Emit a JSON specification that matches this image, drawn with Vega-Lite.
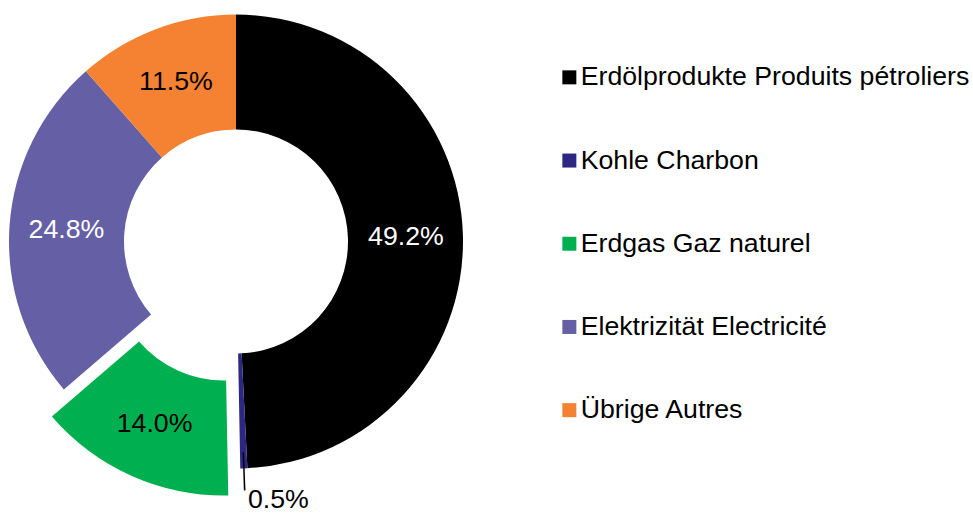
{
  "$schema": "https://vega.github.io/schema/vega-lite/v6.json",
  "width": 472,
  "height": 483,
  "padding": 0,
  "autosize": {"type": "pad"},
  "background": "white",
  "config": {
    "view": {"stroke": null},
    "font": "Liberation Sans"
  },
  "data": {
    "values": [
      {"cat": "Erdölprodukte Produits pétroliers", "value": 49.2, "label": "49.2%", "ord": 1},
      {"cat": "Kohle Charbon", "value": 0.5, "label": "0.5%", "ord": 2},
      {"cat": "Erdgas Gaz naturel", "value": 14.0, "label": "14.0%", "ord": 3},
      {"cat": "Elektrizität Electricité", "value": 24.8, "label": "24.8%", "ord": 4},
      {"cat": "Übrige Autres", "value": 11.5, "label": "11.5%", "ord": 5}
    ]
  },
  "layer": [
    {
      "mark": {"type": "arc", "radius": 227, "radius2": 112},
      "encoding": {
        "theta": {"field": "value", "type": "quantitative", "stack": true, "scale": {"domain": [0, 100]}},
        "order": {"field": "ord"},
        "color": {
          "field": "cat", "type": "nominal",
          "scale": {
            "domain": ["Erdölprodukte Produits pétroliers", "Kohle Charbon", "Erdgas Gaz naturel", "Elektrizität Electricité", "Übrige Autres"],
            "range": ["#000000", "#2B2783", "#00B050", "#655FA5", "#F58232"]
          },
          "legend": {
            "orient": "none", "legendX": 556, "legendY": 64,
            "title": null, "symbolType": "square", "symbolSize": 196,
            "symbolStrokeWidth": 0, "symbolOpacity": 1,
            "labelFontSize": 26.7, "labelFont": "Liberation Sans", "labelColor": "#000000",
            "labelOffset": -2, "rowPadding": 55.2, "padding": 0, "labelLimit": 500
          }
        },
        "fillOpacity": {"condition": {"test": "datum.cat === 'Erdgas Gaz naturel'", "value": 0}, "value": 1}
      }
    },
    {
      "transform": [
        {"stack": "value", "groupby": [], "sort": [{"field": "ord"}], "as": ["v0", "v1"]},
        {"filter": "datum.cat === 'Erdgas Gaz naturel'"}
      ],
      "mark": {"type": "arc", "radius": 227, "radius2": 112, "x": {"expr": "width/2 - 12"}, "y": {"expr": "height/2 + 27"}},
      "encoding": {
        "theta": {"field": "v0", "type": "quantitative", "scale": {"domain": [0, 100]}},
        "theta2": {"field": "v1"},
        "color": {"field": "cat", "type": "nominal", "legend": null}
      }
    },
    {
      "transform": [
        {"stack": "value", "groupby": [], "sort": [{"field": "ord"}], "as": ["v0", "v1"]},
        {"filter": "datum.cat === 'Kohle Charbon'"}
      ],
      "mark": {"type": "arc", "radius": 249, "radius2": 211, "thetaOffset": 0.0122, "theta2Offset": -0.0127, "color": "#000000"},
      "encoding": {
        "theta": {"field": "v0", "type": "quantitative", "scale": {"domain": [0, 100]}},
        "theta2": {"field": "v1"}
      }
    },
    {
      "mark": {"type": "text", "radius": 170, "fontSize": 26.7, "font": "Liberation Sans", "align": "center", "baseline": "middle"},
      "encoding": {
        "theta": {"field": "value", "type": "quantitative", "stack": true, "scale": {"domain": [0, 100]}},
        "order": {"field": "ord"},
        "detail": {"field": "cat"},
        "text": {"condition": {"test": "datum.cat === 'Erdgas Gaz naturel' || datum.cat === 'Kohle Charbon'", "value": ""}, "field": "label"},
        "color": {"condition": {"test": "datum.cat === 'Erdölprodukte Produits pétroliers' || datum.cat === 'Elektrizität Electricité'", "value": "#FFFFFF"}, "value": "#000000"}
      }
    },
    {
      "mark": {"type": "text", "radius": 170, "fontSize": 26.7, "font": "Liberation Sans", "align": "center", "baseline": "middle", "color": "#000000", "x": {"expr": "width/2 - 12"}, "y": {"expr": "height/2 + 27"}},
      "encoding": {
        "theta": {"field": "value", "type": "quantitative", "stack": true, "scale": {"domain": [0, 100]}},
        "order": {"field": "ord"},
        "detail": {"field": "cat"},
        "text": {"condition": {"test": "datum.cat !== 'Erdgas Gaz naturel'", "value": ""}, "field": "label"}
      }
    },
    {
      "mark": {"type": "text", "radius": 200, "fontSize": 26.7, "font": "Liberation Sans", "align": "left", "baseline": "middle", "dx": 5, "dy": 59, "color": "#000000"},
      "encoding": {
        "theta": {"field": "value", "type": "quantitative", "stack": true, "scale": {"domain": [0, 100]}},
        "order": {"field": "ord"},
        "detail": {"field": "cat"},
        "text": {"condition": {"test": "datum.cat !== 'Kohle Charbon'", "value": ""}, "field": "label"}
      }
    }
  ]
}
